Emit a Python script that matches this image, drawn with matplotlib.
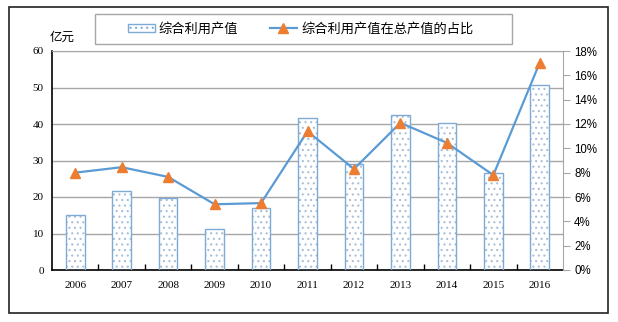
import matplotlib.pyplot as plt
import matplotlib.patches as mpatches
from matplotlib.lines import Line2D
from matplotlib.ticker import FuncFormatter

plt.rcParams['font.family'] = ['Noto Sans CJK SC', 'DejaVu Sans']
plt.rcParams['hatch.linewidth'] = 0.8

years = ['2006', '2007', '2008', '2009', '2010', '2011',
         '2012', '2013', '2014', '2015', '2016']
output_value = [15.1, 21.6, 19.8, 11.2, 16.9, 41.7, 29.0, 42.4, 40.3, 26.7, 50.7]
share_pct = [8.0, 8.45, 7.65, 5.4, 5.5, 11.4, 8.3, 12.1, 10.45, 7.8, 17.05]

bar_edge = '#7eaad6'
hatch_col = '#a9bfd6'
line_col = '#5b9bd5'
marker_col = '#ed7d31'

W, H = 618, 322
fig = plt.figure(figsize=(W / 100, H / 100), dpi=100)
ax = fig.add_axes([52 / W, 1 - 270 / H, (563 - 52) / W, (270 - 51) / H])
ax2 = ax.twinx()

x = list(range(len(years)))
ax.bar(x, output_value, width=0.4, color='white', edgecolor=hatch_col,
       hatch='...', linewidth=0, zorder=2)
ax.bar(x, output_value, width=0.4, color='none', edgecolor=bar_edge,
       linewidth=1.0, zorder=3)

ax2.plot(x, share_pct, color=line_col, linewidth=1.6, marker='^',
         markersize=7, markerfacecolor=marker_col, markeredgecolor=marker_col,
         zorder=4)

ax.set_xlim(-0.5, len(years) - 0.5)
ax.set_ylim(0, 60)
ax.set_yticks(range(0, 61, 10))
ax2.set_ylim(0, 18)
ax2.set_yticks(range(0, 19, 2))
ax2.yaxis.set_major_formatter(FuncFormatter(lambda v, p: f'{v:.0f}%'))

ax.grid(axis='y', color='#a6a6a6', linewidth=1.0, zorder=0)
ax.set_axisbelow(True)

# category ticks between bars, pointing up from the x axis
ax.set_xticks([i + 0.5 for i in x[:-1]], minor=True)
ax.set_xticks(x)
ax.set_xticklabels(years, family='Liberation Serif', fontsize=8)
ax.tick_params(axis='x', which='major', length=0, pad=8)
ax.tick_params(axis='x', which='minor', direction='in', length=4, width=1)
ax.tick_params(axis='y', length=0, pad=6)
for lab in ax.get_yticklabels():
    lab.set_family('Liberation Serif')
    lab.set_fontsize(8)
ax2.tick_params(axis='y', direction='out', length=5, color='#a6a6a6', pad=3)
for lab in ax2.get_yticklabels():
    lab.set_family('Liberation Sans')
    lab.set_fontsize(8.3)

for s in ['left', 'bottom']:
    ax.spines[s].set_color('black')
    ax.spines[s].set_linewidth(1.2)
ax.spines['top'].set_color('#a6a6a6')
ax.spines['right'].set_visible(False)
ax2.spines['right'].set_color('#a6a6a6')
ax2.spines['top'].set_visible(False)
ax2.spines['left'].set_visible(False)
ax2.spines['bottom'].set_visible(False)

fig.text(50 / W, 1 - 37 / H, '亿元', fontsize=9, va='center', ha='left')

handles = [mpatches.Patch(facecolor='white', edgecolor=bar_edge, hatch='...'),
           Line2D([], [], color=line_col, linewidth=1.6, marker='^',
                  markersize=7, markerfacecolor=marker_col,
                  markeredgecolor=marker_col)]
fig.legend(handles, ['综合利用产值', '综合利用产值在总产值的占比'],
           loc='center', bbox_to_anchor=(300.5 / W, 1 - 29 / H), ncol=2,
           frameon=False, fontsize=9.5, columnspacing=2.4,
           handlelength=2.05, handletextpad=0.3, handleheight=0.6)
# legend frame
fig.add_artist(mpatches.Rectangle((95 / W, 1 - 44 / H), 417 / W, 30 / H,
                                  transform=fig.transFigure, fill=False,
                                  edgecolor='#a6a6a6', linewidth=1.0))

# outer border
fig.add_artist(mpatches.Rectangle((9 / W, 1 - 313 / H), 599 / W, 306 / H,
                                  transform=fig.transFigure, fill=False,
                                  edgecolor='#222222', linewidth=1.2))

fig.savefig('out.png', dpi=100)
